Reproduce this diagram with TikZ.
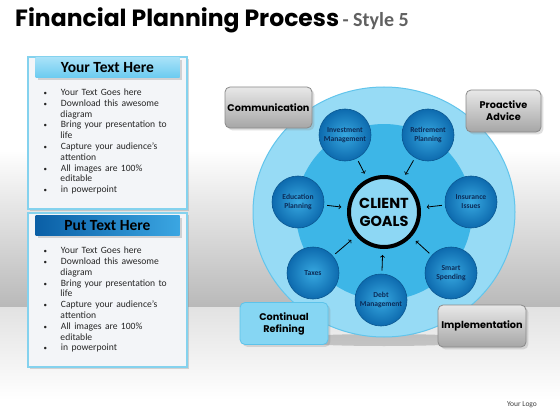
\documentclass[tikz,border=0pt]{standalone}
\usepackage{fontspec}
\setmainfont{Carlito}
\newfontfamily\headfont{Poppins}
\usepackage{tikz}
\usetikzlibrary{calc,positioning,shapes,shadows,arrows,fit,backgrounds}

\definecolor{bandgray}{HTML}{B9B9B9}
\definecolor{floorgray}{HTML}{E2E2E2}
\definecolor{panelfill}{HTML}{F3F5F8}
\definecolor{panelline}{HTML}{84D2EE}
\definecolor{headlight}{HTML}{A9E2F8}
\definecolor{headlightb}{HTML}{6CCBF0}
\definecolor{headdark}{HTML}{0A5FA6}
\definecolor{headdarkb}{HTML}{3BA6E2}
\definecolor{outerblue}{HTML}{97DBF5}
\definecolor{outerline}{HTML}{62C5EC}
\definecolor{innerblue}{HTML}{3DB6E7}
\definecolor{satlight}{HTML}{37A8E0}
\definecolor{satdark}{HTML}{0D6AAE}
\definecolor{satline}{HTML}{0A5791}
\definecolor{sattext}{HTML}{0C2B57}
\definecolor{goalfill}{HTML}{8DD7F4}
\definecolor{boxtop}{HTML}{E8E8E8}
\definecolor{boxbottom}{HTML}{A6A6A6}
\definecolor{boxline}{HTML}{8A8A8A}
\definecolor{refine}{HTML}{86D6F3}
\definecolor{refineline}{HTML}{5DC3EA}

\newenvironment{pointlist}{\fontsize{9.6}{10.8}\selectfont\color{black!85}%
	\list{\fontsize{7}{7}\selectfont\textbullet}{\setlength{\leftmargin}{17pt}\setlength{\labelsep}{14pt}%
	\setlength{\labelwidth}{3pt}\setlength{\itemsep}{0pt}\setlength{\parsep}{0pt}%
	\setlength{\topsep}{0pt}\setlength{\partopsep}{0pt}}}{\endlist}

\tikzset{
	panel/.style={draw=panelline,line width=1.6pt,fill=panelfill,minimum width=159pt,drop shadow={opacity=0.3}},
	header/.style={minimum width=144pt,minimum height=20pt,inner sep=0pt,font=\fontsize{15.5}{16}\selectfont\bfseries},
	points/.style={inner sep=0pt,text width=129pt,align=left},
	sat/.style={circle,draw=satline,line width=0.6pt,inner color=satlight,outer color=satdark,minimum size=52pt,
		inner sep=0pt,align=center,text=sattext,font=\fontsize{7.6}{9}\selectfont\bfseries},
	goal/.style={circle,draw=black,line width=4pt,fill=goalfill,minimum size=70pt,inner sep=0pt,align=center,
		font=\headfont\fontsize{14.5}{18}\selectfont\bfseries},
	graybox/.style={rectangle,rounded corners=5pt,draw=boxline,line width=0.8pt,top color=boxtop,bottom color=boxbottom,
		minimum width=88pt,minimum height=42pt,align=center,inner sep=0pt,font=\headfont\fontsize{9.7}{12}\selectfont\bfseries,
		drop shadow={opacity=0.25}},
	arr/.style={->,>=to,line width=0.8pt,shorten <=3pt,shorten >=6pt}
}

\begin{document}
	\begin{tikzpicture}[x=1pt,y=-1pt]
		\useasboundingbox (0,0) rectangle (560,420);
		% background
		\fill[white] (0,0) rectangle (560,420);
		\shade[top color=white,bottom color=bandgray] (0,150) rectangle (560,307);
		\shade[top color=floorgray,bottom color=white] (0,307) rectangle (560,400);
		\node(title) [anchor=base west,inner sep=0pt,font=\headfont\fontsize{23.5}{24}\selectfont\bfseries] at (15,27) {Financial Planning Process};
		\node(style) [right=3pt of title.base east,anchor=base west,inner sep=0pt,text=black!62,font=\fontsize{20}{22}\selectfont\bfseries] {- Style 5};
		\node(logo) [font=\fontsize{7.5}{8}\selectfont,text=black!75] at (522,405) {Your Logo};

		% left panels
		\begin{scope}
			\node(p1) [panel,minimum height=152pt] at (107.5,133) {};
			\node(h1) [header,below=1pt of p1.north,top color=headlight,bottom color=headlightb,drop shadow={opacity=0.3}] {Your Text Here};
			\node(b1) [points,below=7pt of h1.south west,anchor=north west,xshift=8pt] {%
				\begin{pointlist}
					\item Your Text Goes here
					\item Download this awesome\\diagram
					\item Bring your presentation to\\life
					\item Capture your audience's\\attention
					\item All images are 100\%\\editable
					\item in powerpoint
				\end{pointlist}};
			\node(p2) [panel,minimum height=154pt] at (107.5,290) {};
			\node(h2) [header,below=3pt of p2.north,left color=headdark,right color=headdarkb,drop shadow={opacity=0.3}] {Put Text Here};
			\node(b2) [points,below=7pt of h2.south west,anchor=north west,xshift=8pt] {%
				\begin{pointlist}
					\item Your Text Goes here
					\item Download this awesome\\diagram
					\item Bring your presentation to\\life
					\item Capture your audience's\\attention
					\item All images are 100\%\\editable
					\item in powerpoint
				\end{pointlist}};
		\end{scope}

		% wheel
		\begin{scope}
			\fill[black,opacity=0.18] (384,340) ellipse [x radius=105pt,y radius=6pt];
			\draw[outerline,line width=1pt,fill=outerblue] (384,212) ellipse [x radius=131pt,y radius=125pt];
			\fill[innerblue] (384,212) circle [radius=88pt];
			\node(0) [goal] at (384,212) {CLIENT\\GOALS};
			\node(1) [sat] at (345,135) {Investment\\Management};
			\node(2) [sat] at (428,135) {Retirement\\Planning};
			\node(3) [sat] at (298,202) {Education\\Planning};
			\node(4) [sat] at (471,202) {Insurance\\Issues};
			\node(5) [sat] at (313,273) {Taxes};
			\node(6) [sat] at (381,300) {Debt\\Management};
			\node(7) [sat] at (451,273) {Smart\\Spending};
			\path[arr]
				(1) edge (0)
				(2) edge (0)
				(3) edge (0)
				(4) edge (0)
				(5) edge (0)
				(6) edge (0)
				(7) edge (0);
		\end{scope}

		% corner labels
		\node(comm) [graybox,minimum width=87pt,minimum height=41pt] at (268.5,107.5) {Communication};
		\node(pro) [graybox,minimum width=75pt] at (503.5,111) {Proactive\\Advice};
		\node(ref) [graybox,top color=refine,bottom color=refine,draw=refineline] at (284,323.5) {Continual\\Refining};
		\node(impl) [graybox] at (482,326) {Implementation};
	\end{tikzpicture}
\end{document}
